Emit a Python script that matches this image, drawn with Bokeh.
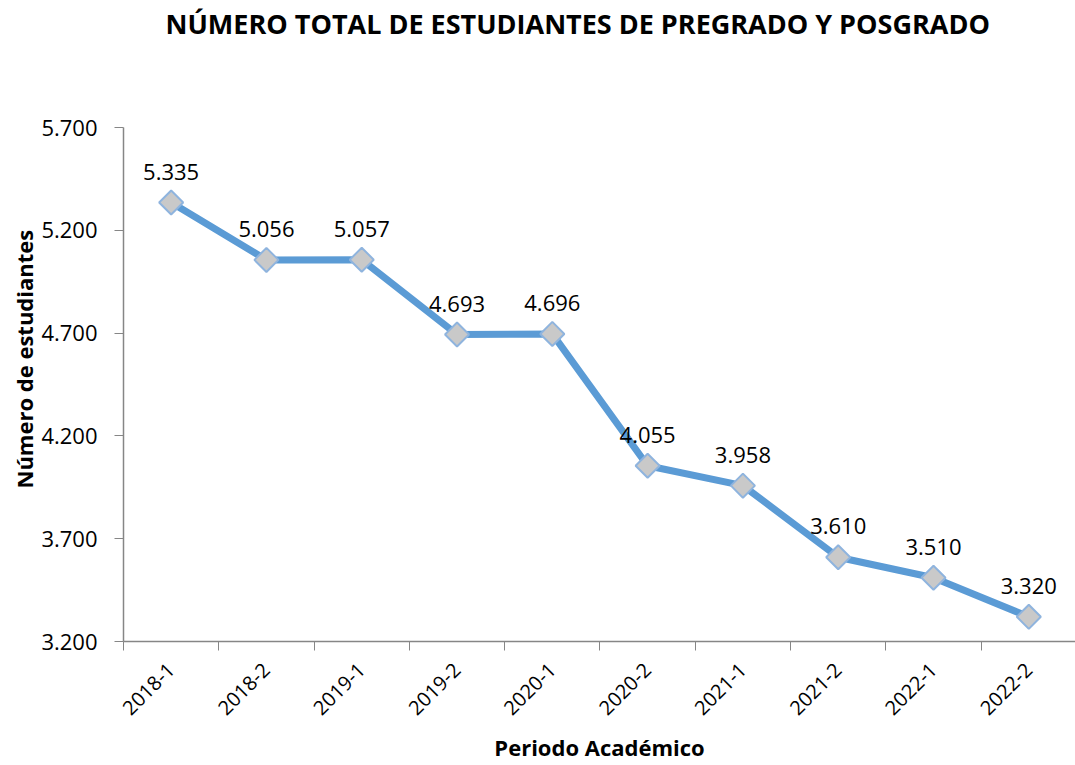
import math
from bokeh.plotting import figure
from bokeh.models import ColumnDataSource, Range1d, FixedTicker, Title
from bokeh.core.properties import value
from bokeh.embed import file_html
from bokeh.resources import INLINE

periods = ["2018-1", "2018-2", "2019-1", "2019-2", "2020-1",
           "2020-2", "2021-1", "2021-2", "2022-1", "2022-2"]
students = [5335, 5056, 5057, 4693, 4696, 4055, 3958, 3610, 3510, 3320]
y_ticks = [3200, 3700, 4200, 4700, 5200, 5700]

title_text = "NÚMERO TOTAL DE ESTUDIANTES DE PREGRADO Y POSGRADO"
x_title = "Periodo Académico"
y_title = "Número de estudiantes"

def fmt(v):
    return f"{v:,}".replace(",", ".")

xs = [i + 0.5 for i in range(len(periods))]
source = ColumnDataSource(dict(x=xs, y=students, label=[fmt(v) for v in students]))

FONT = "Open Sans"

p = figure(width=1075, height=765, output_backend="svg", toolbar_location=None,
           x_range=Range1d(0, 9.99), y_range=Range1d(3200, 5700),
           min_border_left=123, min_border_right=0, min_border_top=127,
           min_border_bottom=122, outline_line_color=None)

p.xgrid.visible = False
p.ygrid.visible = False

# blank spacer (closest to the frame) then the chart title above it
p.add_layout(Title(text=" ", standoff=0, text_font=FONT,
                   text_font_size="62px"), "above")
p.add_layout(Title(text=title_text, align="left", offset=42, standoff=0,
                   text_font=FONT, text_font_size="27px",
                   text_font_style="bold", text_color="#000000"), "above")

# x axis
xa = p.xaxis[0]
xa.ticker = FixedTicker(ticks=xs, minor_ticks=list(range(len(periods) + 1)))
xa.major_label_overrides = {x: lab for x, lab in zip(xs, periods)}
xa.major_tick_out = 0
xa.major_tick_in = 0
xa.minor_tick_out = 9
xa.minor_tick_in = 0
xa.minor_tick_line_color = "#868686"
xa.axis_line_color = "#868686"
xa.axis_line_width = 1.5
xa.major_label_orientation = math.pi / 4
xa.major_label_text_font = FONT
xa.major_label_text_font_size = "20px"
xa.major_label_text_color = "#000000"
xa.major_label_standoff = 16
xa.axis_label = x_title
xa.axis_label_text_font = FONT
xa.axis_label_text_font_size = "22px"
xa.axis_label_text_font_style = "bold"
xa.axis_label_text_color = "#000000"
xa.axis_label_standoff = 8

# y axis
ya = p.yaxis[0]
ya.ticker = FixedTicker(ticks=y_ticks, minor_ticks=[])
ya.major_label_overrides = {v: fmt(v) for v in y_ticks}
ya.major_tick_out = 9
ya.major_tick_in = 0
ya.major_tick_line_color = "#868686"
ya.axis_line_color = "#868686"
ya.axis_line_width = 1.5
ya.major_label_text_font = FONT
ya.major_label_text_font_size = "22px"
ya.major_label_text_color = "#000000"
ya.major_label_standoff = 17

# y axis title (starts near the bottom of the frame, like the reference)
p.add_layout(Title(text=y_title, align="left", offset=153, standoff=0,
                   text_font=FONT, text_font_size="22px",
                   text_font_style="bold", text_color="#000000"), "left")

p.line("x", "y", source=source, line_color="#5B9BD5", line_width=7)
p.scatter("x", "y", source=source, marker="square", angle=math.pi / 4, size=17,
          fill_color="#C9C9C9", line_color="#8FB4DE", line_width=2)
p.text("x", "y", text="label", source=source, y_offset=-31,
       text_align="center", text_baseline="alphabetic",
       text_font=value(FONT), text_font_size="22px", text_color="#000000")

open("out.html", "w").write(file_html(p, INLINE))
